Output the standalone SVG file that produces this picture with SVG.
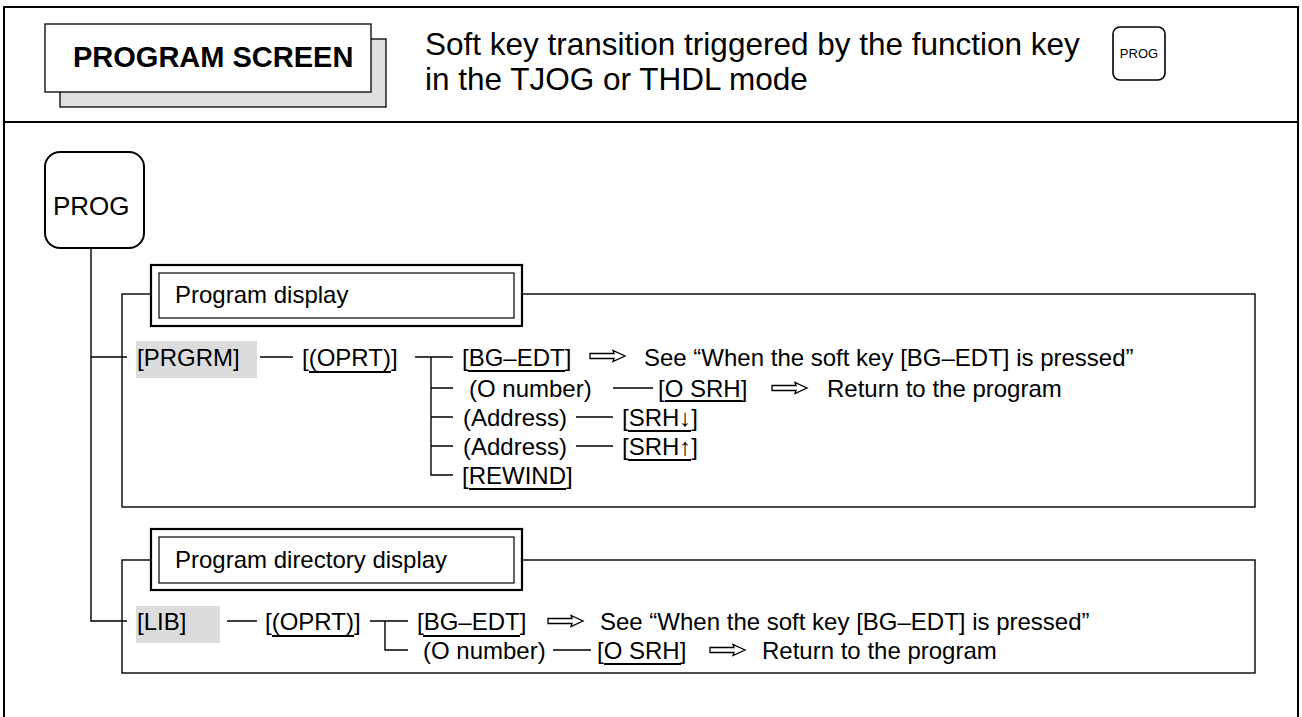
<svg xmlns="http://www.w3.org/2000/svg" width="1302" height="717" viewBox="0 0 1302 717">
<defs>
<style>
.t{font-family:"Liberation Sans",Arial,sans-serif;font-size:24px;fill:#000}
.ln{stroke:#000;stroke-width:1.4;fill:none}
.ul{stroke:#000;stroke-width:2;fill:none}
.fr{stroke:#000;stroke-width:1.4;fill:none}
.ob{stroke:#000;stroke-width:2.2;fill:#fff}
.ib{stroke:#000;stroke-width:1.2;fill:#fff}
.hl{fill:#dcdcdc}
.ar{stroke:#000;stroke-width:1.3;fill:#fff}
</style>
<path id="arw" d="M0,-2.5 H24 L23,-5.5 L35,0 L23,5.5 L24,2.5 H0 Z"/>
</defs>
<rect width="1302" height="717" fill="#fff"/>
<g id="frame">
<path d="M4,717 V7 H1298 V717" stroke="#000" stroke-width="2" fill="none"/>
<line x1="4" y1="122" x2="1298" y2="122" stroke="#000" stroke-width="2"/>
</g>
<g id="title">
<rect x="60" y="39" width="326" height="68" fill="#e0e0e0" stroke="#000" stroke-width="1.3"/>
<rect x="45" y="24" width="326" height="68" fill="#fff" stroke="#000" stroke-width="1.3"/>
<text x="73" y="67" style="font-family:'Liberation Sans',Arial,sans-serif;font-size:29px;font-weight:bold">PROGRAM SCREEN</text>
</g>
<g id="subtitle">
<text x="425" y="55" style="font-family:'Liberation Sans',Arial,sans-serif;font-size:31.5px">Soft key transition triggered by the function key</text>
<text x="425" y="90" style="font-family:'Liberation Sans',Arial,sans-serif;font-size:31.5px">in the TJOG or THDL mode</text>
</g>
<g id="prog-key-small">
<rect x="1113" y="27" width="52" height="53" rx="7" fill="#fff" stroke="#000" stroke-width="1.6"/>
<text x="1139" y="58" text-anchor="middle" style="font-family:'Liberation Sans',Arial,sans-serif;font-size:13px">PROG</text>
</g>
<g id="prog-key">
<rect x="45" y="152" width="99" height="96" rx="15" fill="#fff" stroke="#000" stroke-width="2"/>
<text x="53" y="215" style="font-family:'Liberation Sans',Arial,sans-serif;font-size:26px">PROG</text>
</g>
<g id="section1-frame">
<rect class="fr" x="122" y="294" width="1133" height="213"/>
</g>
<g id="section2-frame">
<rect class="fr" x="122" y="560" width="1133" height="113"/>
</g>
<g id="connectors">
<path class="ln" d="M91,248 V621 H127 M91,357 H127"/>
<path class="ln" d="M260,357 H293 M415,357 H453 M431,357 V475 H453 M431,388 H453 M431,417 H453 M431,446 H453"/>
<path class="ln" d="M613,388 H653 M576,417 H613 M576,446 H613"/>
<path class="ln" d="M227,621 H257 M370,621 H408 M385,621 V650 H408 M553,650 H591"/>
<use href="#arw" class="ar" x="590" y="356"/>
<use href="#arw" class="ar" x="772" y="388"/>
<use href="#arw" class="ar" x="548" y="621"/>
<use href="#arw" class="ar" x="710" y="650"/>
</g>
<g id="label-program-display">
<rect class="ob" x="151" y="265" width="371" height="61"/>
<rect class="ib" x="159" y="273" width="355" height="45"/>
<text class="t" x="175" y="303">Program display</text>
</g>
<g id="label-program-directory">
<rect class="ob" x="151" y="529" width="371" height="61"/>
<rect class="ib" x="159" y="537" width="355" height="46"/>
<text class="t" x="175" y="568">Program directory display</text>
</g>
<g id="node-prgrm">
<rect class="hl" x="136" y="341" width="121" height="37"/>
<text class="t" x="137" y="366">[PRGRM]</text>
</g>
<g id="node-oprt1">
<text class="t" x="302" y="366">[(OPRT)]</text>
<line class="ul" x1="309" y1="372" x2="391" y2="372"/>
</g>
<g id="node-bgedt1">
<text class="t" x="462" y="366">[BG–EDT]</text>
<line class="ul" x1="468" y1="371" x2="565" y2="371"/>
<text class="t" x="644" y="366">See “When the soft key [BG–EDT] is pressed”</text>
</g>
<g id="node-osrh1">
<text class="t" x="469" y="397">(O number)</text>
<text class="t" x="658" y="397">[O SRH]</text>
<line class="ul" x1="665" y1="401" x2="742" y2="401"/>
<text class="t" x="827" y="397">Return to the program</text>
</g>
<g id="node-srhdown">
<text class="t" x="463" y="426">(Address)</text>
<text class="t" x="622" y="426">[SRH↓]</text>
<line class="ul" x1="628" y1="431" x2="691" y2="431"/>
</g>
<g id="node-srhup">
<text class="t" x="463" y="455">(Address)</text>
<text class="t" x="622" y="455">[SRH↑]</text>
<line class="ul" x1="628" y1="460" x2="691" y2="460"/>
</g>
<g id="node-rewind">
<text class="t" x="462" y="484">[REWIND]</text>
<line class="ul" x1="469" y1="489" x2="566" y2="489"/>
</g>
<g id="node-lib">
<rect class="hl" x="136" y="606" width="84" height="37"/>
<text class="t" x="137" y="630">[LIB]</text>
</g>
<g id="node-oprt2">
<text class="t" x="265" y="630">[(OPRT)]</text>
<line class="ul" x1="272" y1="636" x2="354" y2="636"/>
</g>
<g id="node-bgedt2">
<text class="t" x="417" y="630">[BG–EDT]</text>
<line class="ul" x1="423" y1="636" x2="520" y2="636"/>
<text class="t" x="600" y="630">See “When the soft key [BG–EDT] is pressed”</text>
</g>
<g id="node-osrh2">
<text class="t" x="423" y="659">(O number)</text>
<text class="t" x="597" y="659">[O SRH]</text>
<line class="ul" x1="604" y1="664" x2="681" y2="664"/>
<text class="t" x="762" y="659">Return to the program</text>
</g>
</svg>
